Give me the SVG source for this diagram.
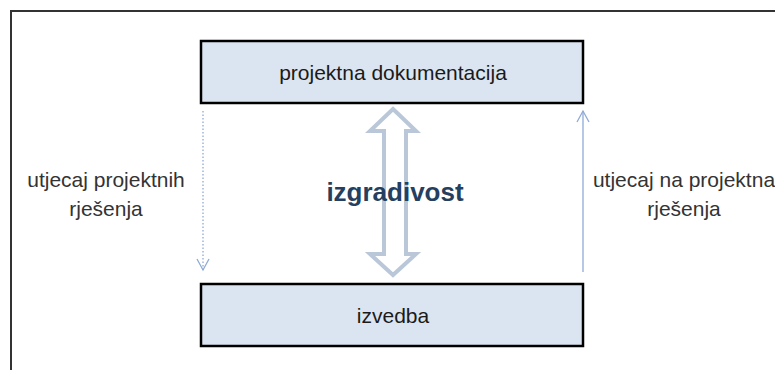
<svg xmlns="http://www.w3.org/2000/svg" width="775" height="370" viewBox="0 0 775 370">
<style>
.box{fill:#dbe5f1;stroke:#000;stroke-width:2.5}
.lbl{font-family:"Liberation Sans",Arial,sans-serif;font-size:21px;fill:#1a1a1a;text-anchor:middle}
.side{font-family:"Liberation Sans",Arial,sans-serif;font-size:21px;fill:#333;text-anchor:middle}
.conn{stroke:#8eaad6;stroke-width:1.3;fill:none}
</style>
<defs>
<marker id="chev" viewBox="0 0 14 14" refX="12" refY="7" markerWidth="14" markerHeight="14" markerUnits="userSpaceOnUse" orient="auto">
<path d="M1,1 L12,7 L1,13" fill="none" stroke="#8eaad6" stroke-width="1.3"/>
</marker>
</defs>
<rect width="775" height="370" fill="#fff"/>
<path d="M11,372 L11,11 L777,11" fill="none" stroke="#333" stroke-width="2"/>
<g id="connectors">
<line class="conn" x1="203" y1="111" x2="203" y2="270" stroke-dasharray="1.5,2" marker-end="url(#chev)"/>
<line class="conn" x1="583" y1="272" x2="583" y2="111" marker-end="url(#chev)"/>
</g>
<g id="izgradivost">
<path d="M393,109 L416,131 L406,131 L406,254 L416,254 L393,275 L370,254 L384,254 L384,131 L370,131 Z" fill="#fff" stroke="#b9c7d8" stroke-width="4" stroke-linejoin="miter"/>
<text x="395" y="201" font-family="'Liberation Sans',Arial,sans-serif" font-size="26" font-weight="bold" fill="#243f60" text-anchor="middle">izgradivost</text>
</g>
<g id="projektna">
<rect class="box" x="201" y="41" width="382" height="62"/>
<text class="lbl" x="393" y="80">projektna dokumentacija</text>
</g>
<g id="izvedba">
<rect class="box" x="201" y="284" width="382" height="62"/>
<text class="lbl" x="393" y="323">izvedba</text>
</g>
<g id="left-label">
<text class="side" x="106" y="187">utjecaj projektnih</text>
<text class="side" x="106" y="216">rješenja</text>
</g>
<g id="right-label">
<text class="side" x="684" y="187" font-size="20">utjecaj na projektna</text>
<text class="side" x="684" y="216" font-size="20">rješenja</text>
</g>
</svg>
